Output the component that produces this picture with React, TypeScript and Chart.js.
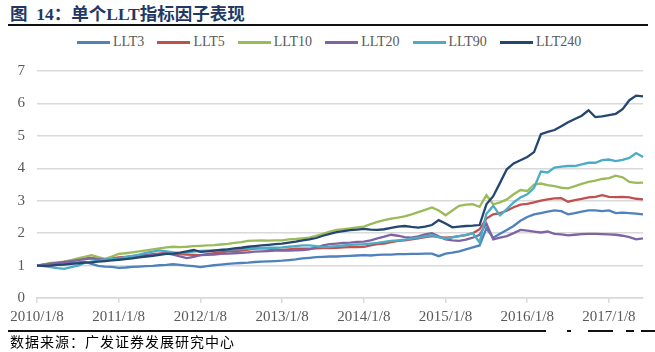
import React, { useEffect, useRef } from 'react';
import { Chart, registerables } from 'chart.js';

Chart.register(...registerables);

// monthly sample dates (category axis)
const categories: string[] = [];
for (let y = 2010; y <= 2017; y++) {
  for (let m = 1; m <= 12; m++) {
    if (y === 2017 && m > 6) break;
    categories.push(`${y}/${m}/8`);
  }
}

const xTickLabels = ['2010/1/8', '2011/1/8', '2012/1/8', '2013/1/8', '2014/1/8', '2015/1/8', '2016/1/8', '2017/1/8'];
const yMin = 0;
const yMax = 7;

const llt3 = [
  1.00, 1.01, 1.03, 1.04, 1.05, 1.08, 1.10, 1.12, 1.05, 0.99,
  0.97, 0.96, 0.93, 0.94, 0.96, 0.97, 0.98, 0.99, 1.01, 1.02,
  1.04, 1.02, 1.00, 0.98, 0.95, 0.98, 1.01, 1.03, 1.05, 1.07,
  1.08, 1.09, 1.11, 1.12, 1.13, 1.14, 1.15, 1.17, 1.19, 1.22,
  1.24, 1.26, 1.27, 1.28, 1.28, 1.29, 1.30, 1.31, 1.32, 1.31,
  1.33, 1.34, 1.34, 1.35, 1.35, 1.36, 1.36, 1.37, 1.37, 1.29,
  1.37, 1.40, 1.44, 1.50, 1.56, 1.62, 2.15, 1.86, 1.98, 2.10,
  2.22, 2.38, 2.50, 2.58, 2.62, 2.66, 2.70, 2.68, 2.58, 2.62,
  2.66, 2.70, 2.70, 2.68, 2.70, 2.62, 2.63, 2.62, 2.60, 2.58,
];

const llt5 = [
  1.00, 1.03, 1.06, 1.08, 1.10, 1.14, 1.18, 1.22, 1.24, 1.20,
  1.18, 1.22, 1.25, 1.27, 1.29, 1.31, 1.33, 1.35, 1.37, 1.38,
  1.37, 1.35, 1.34, 1.33, 1.32, 1.35, 1.38, 1.41, 1.44, 1.45,
  1.46, 1.49, 1.52, 1.54, 1.52, 1.50, 1.48, 1.50, 1.52, 1.52,
  1.52, 1.53, 1.54, 1.54, 1.55, 1.56, 1.57, 1.57, 1.58, 1.62,
  1.66, 1.68, 1.72, 1.76, 1.78, 1.81, 1.84, 1.88, 1.91, 1.88,
  1.86, 1.88, 1.91, 1.94, 2.00, 2.12, 2.45, 2.58, 2.62, 2.69,
  2.80, 2.88, 2.90, 2.95, 3.00, 3.04, 3.07, 3.08, 2.97, 3.02,
  3.06, 3.10, 3.12, 3.17, 3.12, 3.11, 3.12, 3.10, 3.06, 3.04,
];

const llt10 = [
  1.00, 1.04, 1.08, 1.10, 1.12, 1.17, 1.22, 1.27, 1.32, 1.26,
  1.21, 1.28, 1.36, 1.38, 1.41, 1.44, 1.47, 1.50, 1.53, 1.56,
  1.58, 1.57, 1.58, 1.60, 1.61, 1.62, 1.63, 1.65, 1.67, 1.70,
  1.72, 1.76, 1.77, 1.78, 1.77, 1.78, 1.78, 1.81, 1.82, 1.84,
  1.86, 1.92, 1.98, 2.05, 2.10, 2.12, 2.15, 2.18, 2.20, 2.28,
  2.35, 2.40, 2.45, 2.48, 2.52, 2.58, 2.65, 2.72, 2.79, 2.70,
  2.55, 2.70, 2.84, 2.88, 2.89, 2.81, 3.17, 2.89, 2.95, 3.04,
  3.20, 3.33, 3.30, 3.50, 3.53, 3.48, 3.45, 3.40, 3.38, 3.45,
  3.52, 3.58, 3.62, 3.67, 3.70, 3.77, 3.72, 3.58, 3.55, 3.56,
];

const llt20 = [
  1.00, 1.03, 1.06, 1.08, 1.11, 1.14, 1.17, 1.20, 1.22, 1.20,
  1.18, 1.19, 1.19, 1.22, 1.26, 1.30, 1.32, 1.33, 1.36, 1.38,
  1.34, 1.28, 1.23, 1.27, 1.32, 1.33, 1.34, 1.36, 1.37, 1.38,
  1.39, 1.41, 1.43, 1.44, 1.45, 1.46, 1.46, 1.46, 1.47, 1.48,
  1.50, 1.55, 1.62, 1.66, 1.68, 1.70, 1.71, 1.73, 1.74, 1.78,
  1.84, 1.89, 1.95, 1.92, 1.88, 1.86, 1.90, 1.96, 2.00, 1.90,
  1.81, 1.78, 1.76, 1.80, 1.86, 1.95, 2.30, 1.81, 1.86, 1.91,
  2.00, 2.10, 2.08, 2.05, 2.02, 2.05, 1.98, 1.96, 1.93, 1.95,
  1.97, 1.98, 1.98, 1.97, 1.96, 1.95, 1.92, 1.88, 1.81, 1.84,
];

const llt90 = [
  1.00, 0.98, 0.95, 0.92, 0.90, 0.95, 1.00, 1.08, 1.12, 1.15,
  1.18, 1.20, 1.22, 1.26, 1.30, 1.34, 1.39, 1.43, 1.47, 1.44,
  1.41, 1.38, 1.40, 1.43, 1.45, 1.46, 1.47, 1.48, 1.49, 1.50,
  1.51, 1.52, 1.53, 1.54, 1.55, 1.55, 1.56, 1.58, 1.60, 1.62,
  1.62, 1.60, 1.57, 1.58, 1.60, 1.62, 1.64, 1.65, 1.66, 1.68,
  1.70, 1.73, 1.76, 1.78, 1.80, 1.83, 1.86, 1.90, 1.94, 1.88,
  1.83, 1.87, 1.91, 1.95, 2.00, 1.71, 2.60, 2.84, 2.55, 2.74,
  2.95, 3.10, 3.20, 3.40, 3.90, 3.87, 4.02, 4.05, 4.07, 4.07,
  4.12, 4.17, 4.17, 4.25, 4.27, 4.22, 4.26, 4.32, 4.47, 4.35,
];

const llt240 = [
  1.00, 0.99, 1.00, 1.02, 1.03, 1.05, 1.07, 1.09, 1.10, 1.12,
  1.14, 1.16, 1.18, 1.20, 1.22, 1.25, 1.28, 1.30, 1.33, 1.36,
  1.37, 1.40, 1.44, 1.48, 1.42, 1.44, 1.46, 1.48, 1.50, 1.53,
  1.55, 1.58, 1.60, 1.62, 1.64, 1.66, 1.68, 1.71, 1.74, 1.78,
  1.81, 1.85, 1.92, 1.98, 2.03, 2.06, 2.09, 2.11, 2.13, 2.11,
  2.10, 2.12, 2.16, 2.20, 2.22, 2.19, 2.17, 2.20, 2.25, 2.40,
  2.30, 2.18, 2.20, 2.22, 2.23, 2.25, 2.89, 3.14, 3.55, 3.97,
  4.15, 4.25, 4.35, 4.50, 5.05, 5.12, 5.18, 5.30, 5.42, 5.52,
  5.62, 5.79, 5.58, 5.60, 5.64, 5.68, 5.82, 6.10, 6.24, 6.22,
];

const seriesNames = ['LLT3', 'LLT5', 'LLT10', 'LLT20', 'LLT90', 'LLT240'];
const seriesData = [llt3, llt5, llt10, llt20, llt90, llt240];
const seriesColors = ['#4F81BD', '#C0504D', '#9BBB59', '#8064A2', '#4BACC6', '#24466F'];

const serif = '"Liberation Serif", "Times New Roman", serif';
const cjk = '"Liberation Serif", "Noto Sans CJK SC", serif';

export default function App() {
  const canvasRef = useRef<HTMLCanvasElement | null>(null);

  useEffect(() => {
    if (!canvasRef.current) return;
    const chart = new Chart(canvasRef.current, {
      type: 'line',
      data: {
        labels: categories,
        datasets: seriesNames.map((name, i) => ({
          label: name,
          data: seriesData[i],
          borderColor: seriesColors[i],
          backgroundColor: seriesColors[i],
          borderWidth: 2.3,
          pointRadius: 0,
          tension: 0,
          fill: false,
          order: seriesNames.length - i,
        })),
      },
      options: {
        responsive: false,
        animation: false,
        events: [],
        layout: { padding: { left: 0, right: 12, top: 11, bottom: 0 } },
        plugins: {
          legend: { display: false },
          tooltip: { enabled: false },
          title: { display: false },
        },
        scales: {
          x: {
            type: 'category',
            offset: false,
            afterFit: (scale: any) => {
              scale.height = 34;
            },
            border: { display: true, color: '#d9d9d9', width: 1.5 },
            grid: {
              display: true,
              drawOnChartArea: false,
              drawTicks: true,
              tickLength: 5,
              lineWidth: 1.5,
              color: (ctx: any) =>
                xTickLabels.includes(categories[ctx.index]) ? '#d9d9d9' : 'rgba(0,0,0,0)',
            },
            ticks: {
              autoSkip: false,
              maxRotation: 0,
              minRotation: 0,
              padding: 5,
              color: '#595959',
              font: { family: serif, size: 15 },
              callback: (_v: any, idx: number) =>
                xTickLabels.includes(categories[idx]) ? categories[idx] : '',
            },
          },
          y: {
            min: yMin,
            max: yMax,
            afterFit: (scale: any) => {
              scale.width = 37;
            },
            border: { display: false },
            grid: {
              color: '#d9d9d9',
              lineWidth: 1.5,
              drawTicks: false,
            },
            ticks: {
              stepSize: 1,
              padding: 12,
              color: '#595959',
              font: { family: serif, size: 15 },
            },
          },
        },
      },
    });
    return () => chart.destroy();
  }, []);

  return (
    <div style={{ position: 'absolute', left: 0, top: 0, width: 655, height: 352, background: '#fff', overflow: 'hidden' }}>
      <div
        style={{
          position: 'absolute',
          left: 10,
          top: 3,
          fontFamily: cjk,
          fontWeight: 'bold',
          fontSize: 17.5,
          lineHeight: '22px',
          color: '#1F3864',
          whiteSpace: 'nowrap',
        }}
      >
        图&nbsp;&nbsp;14：单个LLT指标因子表现
      </div>

      <svg
        width={655}
        height={352}
        style={{ position: 'absolute', left: 0, top: 0, pointerEvents: 'none' }}
      >
        <rect x={8} y={24} width={640} height={2} fill="#111" />
        <rect x={8} y={330} width={538} height={2} fill="#111" />
        <rect x={567} y={330} width={4} height={2} fill="#111" />
        <rect x={588} y={330} width={25} height={2} fill="#111" />
        <rect x={626} y={330} width={8} height={2} fill="#111" />
        <rect x={641} y={330} width={14} height={2} fill="#111" />
      </svg>

      <div
        style={{
          position: 'absolute',
          left: 77,
          top: 34,
          height: 16,
          display: 'flex',
          alignItems: 'center',
          whiteSpace: 'nowrap',
        }}
      >
        {seriesNames.map((name, i) => (
          <div key={name} style={{ display: 'flex', alignItems: 'center', marginRight: 13 }}>
            <span style={{ display: 'inline-block', width: 33, height: 3, background: seriesColors[i], marginRight: 3 }} />
            <span style={{ fontFamily: serif, fontSize: 14, color: '#595959', lineHeight: '16px' }}>{name}</span>
          </div>
        ))}
      </div>

      <canvas
        ref={canvasRef}
        width={655}
        height={282}
        style={{ position: 'absolute', left: 0, top: 50, width: 655, height: 282 }}
      />

      <div
        style={{
          position: 'absolute',
          left: 10,
          top: 333,
          fontFamily: '"Noto Sans CJK SC", sans-serif',
          fontSize: 14,
          letterSpacing: 1,
          lineHeight: '17px',
          color: '#000',
          whiteSpace: 'nowrap',
        }}
      >
        数据来源：广发证券发展研究中心
      </div>
    </div>
  );
}
